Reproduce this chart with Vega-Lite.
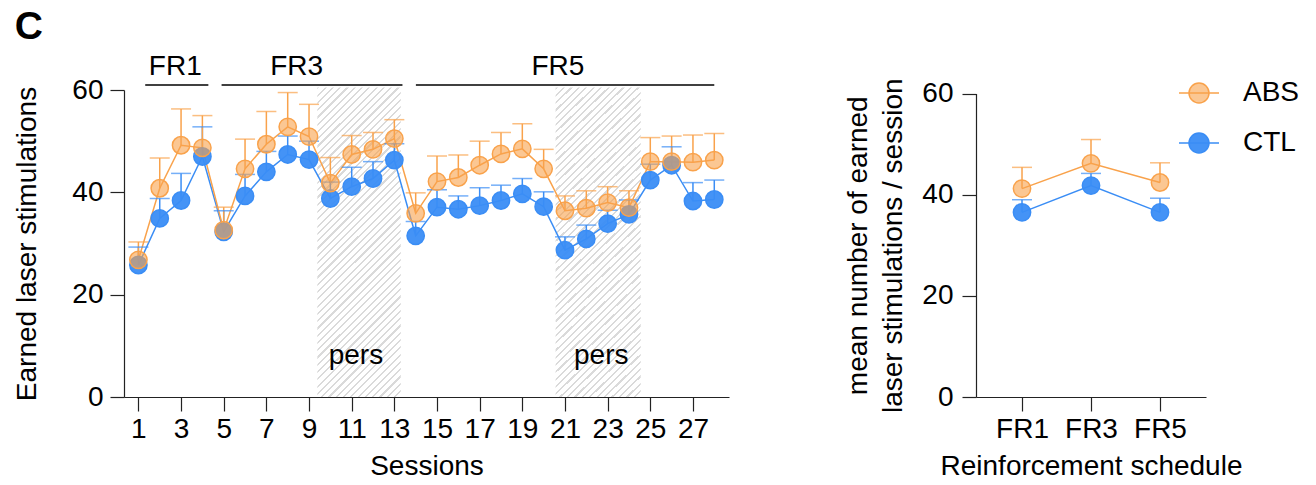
{
  "$schema": "https://vega.github.io/schema/vega-lite/v6.json",
  "background": "white",
  "padding": {"left": 13, "top": 7, "right": 5, "bottom": 5},
  "title": {"text": "C", "anchor": "start", "fontSize": 39, "fontWeight": "bold", "color": "#000", "font": "Liberation Sans", "offset": 6, "dx": 1},
  "config": {
    "font": "Liberation Sans",
    "view": {"stroke": null},
    "axis": {"labelFont": "Liberation Sans", "titleFont": "Liberation Sans", "labelFontSize": 28, "titleFontSize": 28, "titleFontWeight": "normal", "labelColor": "#000", "titleColor": "#000", "domainColor": "#222", "tickColor": "#222", "tickSize": 14, "grid": false, "domainWidth": 1.2, "tickWidth": 1.2}
  },
  "datasets": {
    "sessions": [
      {"session": 1, "group": "CTL", "mean": 25.8, "upper": 29.3},
      {"session": 2, "group": "CTL", "mean": 34.9, "upper": 38.8},
      {"session": 3, "group": "CTL", "mean": 38.4, "upper": 43.7},
      {"session": 4, "group": "CTL", "mean": 47.0, "upper": 52.8},
      {"session": 5, "group": "CTL", "mean": 32.3, "upper": 36.4},
      {"session": 6, "group": "CTL", "mean": 39.3, "upper": 43.5},
      {"session": 7, "group": "CTL", "mean": 44.0, "upper": 48.0},
      {"session": 8, "group": "CTL", "mean": 47.4, "upper": 51.0},
      {"session": 9, "group": "CTL", "mean": 46.4, "upper": 50.0},
      {"session": 10, "group": "CTL", "mean": 38.8, "upper": 42.0},
      {"session": 11, "group": "CTL", "mean": 41.1, "upper": 44.9},
      {"session": 12, "group": "CTL", "mean": 42.7, "upper": 46.0},
      {"session": 13, "group": "CTL", "mean": 46.3, "upper": 49.5},
      {"session": 14, "group": "CTL", "mean": 31.5, "upper": 34.3},
      {"session": 15, "group": "CTL", "mean": 37.1, "upper": 40.5},
      {"session": 16, "group": "CTL", "mean": 36.7, "upper": 39.3},
      {"session": 17, "group": "CTL", "mean": 37.4, "upper": 40.9},
      {"session": 18, "group": "CTL", "mean": 38.4, "upper": 41.4},
      {"session": 19, "group": "CTL", "mean": 39.7, "upper": 42.7},
      {"session": 20, "group": "CTL", "mean": 37.2, "upper": 40.1},
      {"session": 21, "group": "CTL", "mean": 28.7, "upper": 31.3},
      {"session": 22, "group": "CTL", "mean": 30.9, "upper": 33.6},
      {"session": 23, "group": "CTL", "mean": 33.9, "upper": 36.5},
      {"session": 24, "group": "CTL", "mean": 35.7, "upper": 38.5},
      {"session": 25, "group": "CTL", "mean": 42.4, "upper": 45.5},
      {"session": 26, "group": "CTL", "mean": 45.3, "upper": 48.9},
      {"session": 27, "group": "CTL", "mean": 38.3, "upper": 41.9},
      {"session": 28, "group": "CTL", "mean": 38.6, "upper": 42.4},
      {"session": 1, "group": "ABS", "mean": 26.8, "upper": 30.3},
      {"session": 2, "group": "ABS", "mean": 40.8, "upper": 46.7},
      {"session": 3, "group": "ABS", "mean": 49.2, "upper": 56.3},
      {"session": 4, "group": "ABS", "mean": 48.7, "upper": 55.0},
      {"session": 5, "group": "ABS", "mean": 32.6, "upper": 37.1},
      {"session": 6, "group": "ABS", "mean": 44.6, "upper": 50.4},
      {"session": 7, "group": "ABS", "mean": 49.4, "upper": 55.8},
      {"session": 8, "group": "ABS", "mean": 52.8, "upper": 59.5},
      {"session": 9, "group": "ABS", "mean": 50.9, "upper": 57.2},
      {"session": 10, "group": "ABS", "mean": 41.8, "upper": 46.8},
      {"session": 11, "group": "ABS", "mean": 47.4, "upper": 51.1},
      {"session": 12, "group": "ABS", "mean": 48.4, "upper": 51.7},
      {"session": 13, "group": "ABS", "mean": 50.5, "upper": 54.2},
      {"session": 14, "group": "ABS", "mean": 35.9, "upper": 39.9},
      {"session": 15, "group": "ABS", "mean": 42.1, "upper": 47.1},
      {"session": 16, "group": "ABS", "mean": 42.9, "upper": 47.3},
      {"session": 17, "group": "ABS", "mean": 45.3, "upper": 50.0},
      {"session": 18, "group": "ABS", "mean": 47.5, "upper": 51.7},
      {"session": 19, "group": "ABS", "mean": 48.5, "upper": 53.4},
      {"session": 20, "group": "ABS", "mean": 44.6, "upper": 48.4},
      {"session": 21, "group": "ABS", "mean": 36.4, "upper": 39.3},
      {"session": 22, "group": "ABS", "mean": 36.9, "upper": 40.3},
      {"session": 23, "group": "ABS", "mean": 38.0, "upper": 41.1},
      {"session": 24, "group": "ABS", "mean": 37.0, "upper": 40.3},
      {"session": 25, "group": "ABS", "mean": 46.0, "upper": 50.7},
      {"session": 26, "group": "ABS", "mean": 46.0, "upper": 51.0},
      {"session": 27, "group": "ABS", "mean": 45.9, "upper": 51.2},
      {"session": 28, "group": "ABS", "mean": 46.3, "upper": 51.5}
    ],
    "summary": [
      {"schedule": "FR1", "group": "CTL", "mean": 36.5, "upper": 39.0},
      {"schedule": "FR3", "group": "CTL", "mean": 41.8, "upper": 44.2},
      {"schedule": "FR5", "group": "CTL", "mean": 36.5, "upper": 39.3},
      {"schedule": "FR1", "group": "ABS", "mean": 41.2, "upper": 45.4},
      {"schedule": "FR3", "group": "ABS", "mean": 46.2, "upper": 50.9},
      {"schedule": "FR5", "group": "ABS", "mean": 42.4, "upper": 46.3}
    ],
    "phases": [
      {"label": "FR1", "start": 1.32, "end": 4.28, "mid": 2.73},
      {"label": "FR3", "start": 4.9, "end": 13.38, "mid": 8.42},
      {"label": "FR5", "start": 14.01, "end": 28.0, "mid": 20.67}
    ],
    "pers": [
      {"label": "pers", "start": 9.39, "end": 13.3, "mid": 11.2},
      {"label": "pers", "start": 20.56, "end": 24.55, "mid": 22.7}
    ]
  },
  "spacing": 115,
  "resolve": {"scale": {"color": "independent", "fillOpacity": "independent"}, "legend": {"color": "independent", "fillOpacity": "independent"}},
  "hconcat": [
    {
      "width": 605,
      "height": 307,
      "layer": [
        {
          "data": {"name": "pers"},
          "mark": {"type": "rect", "clip": false, "fill": {"gradient": "linear", "x1": 0, "y1": 0, "x2": 0.3184, "y2": 1.1834, "stops": [
            {"offset": 0, "color": "#dadada"}, {"offset": 0.0056, "color": "#dadada"}, {"offset": 0.0056, "color": "#fff"}, {"offset": 0.0185, "color": "#fff"},
            {"offset": 0.0185, "color": "#dadada"}, {"offset": 0.0241, "color": "#dadada"}, {"offset": 0.0241, "color": "#fff"}, {"offset": 0.0370, "color": "#fff"},
            {"offset": 0.0370, "color": "#dadada"}, {"offset": 0.0426, "color": "#dadada"}, {"offset": 0.0426, "color": "#fff"}, {"offset": 0.0556, "color": "#fff"},
            {"offset": 0.0556, "color": "#dadada"}, {"offset": 0.0611, "color": "#dadada"}, {"offset": 0.0611, "color": "#fff"}, {"offset": 0.0741, "color": "#fff"},
            {"offset": 0.0741, "color": "#dadada"}, {"offset": 0.0796, "color": "#dadada"}, {"offset": 0.0796, "color": "#fff"}, {"offset": 0.0926, "color": "#fff"},
            {"offset": 0.0926, "color": "#dadada"}, {"offset": 0.0981, "color": "#dadada"}, {"offset": 0.0981, "color": "#fff"}, {"offset": 0.1111, "color": "#fff"},
            {"offset": 0.1111, "color": "#dadada"}, {"offset": 0.1167, "color": "#dadada"}, {"offset": 0.1167, "color": "#fff"}, {"offset": 0.1296, "color": "#fff"},
            {"offset": 0.1296, "color": "#dadada"}, {"offset": 0.1352, "color": "#dadada"}, {"offset": 0.1352, "color": "#fff"}, {"offset": 0.1481, "color": "#fff"},
            {"offset": 0.1481, "color": "#dadada"}, {"offset": 0.1537, "color": "#dadada"}, {"offset": 0.1537, "color": "#fff"}, {"offset": 0.1667, "color": "#fff"},
            {"offset": 0.1667, "color": "#dadada"}, {"offset": 0.1722, "color": "#dadada"}, {"offset": 0.1722, "color": "#fff"}, {"offset": 0.1852, "color": "#fff"},
            {"offset": 0.1852, "color": "#dadada"}, {"offset": 0.1907, "color": "#dadada"}, {"offset": 0.1907, "color": "#fff"}, {"offset": 0.2037, "color": "#fff"},
            {"offset": 0.2037, "color": "#dadada"}, {"offset": 0.2093, "color": "#dadada"}, {"offset": 0.2093, "color": "#fff"}, {"offset": 0.2222, "color": "#fff"},
            {"offset": 0.2222, "color": "#dadada"}, {"offset": 0.2278, "color": "#dadada"}, {"offset": 0.2278, "color": "#fff"}, {"offset": 0.2407, "color": "#fff"},
            {"offset": 0.2407, "color": "#dadada"}, {"offset": 0.2463, "color": "#dadada"}, {"offset": 0.2463, "color": "#fff"}, {"offset": 0.2593, "color": "#fff"},
            {"offset": 0.2593, "color": "#dadada"}, {"offset": 0.2648, "color": "#dadada"}, {"offset": 0.2648, "color": "#fff"}, {"offset": 0.2778, "color": "#fff"},
            {"offset": 0.2778, "color": "#dadada"}, {"offset": 0.2833, "color": "#dadada"}, {"offset": 0.2833, "color": "#fff"}, {"offset": 0.2963, "color": "#fff"},
            {"offset": 0.2963, "color": "#dadada"}, {"offset": 0.3019, "color": "#dadada"}, {"offset": 0.3019, "color": "#fff"}, {"offset": 0.3148, "color": "#fff"},
            {"offset": 0.3148, "color": "#dadada"}, {"offset": 0.3204, "color": "#dadada"}, {"offset": 0.3204, "color": "#fff"}, {"offset": 0.3333, "color": "#fff"},
            {"offset": 0.3333, "color": "#dadada"}, {"offset": 0.3389, "color": "#dadada"}, {"offset": 0.3389, "color": "#fff"}, {"offset": 0.3519, "color": "#fff"},
            {"offset": 0.3519, "color": "#dadada"}, {"offset": 0.3574, "color": "#dadada"}, {"offset": 0.3574, "color": "#fff"}, {"offset": 0.3704, "color": "#fff"},
            {"offset": 0.3704, "color": "#dadada"}, {"offset": 0.3759, "color": "#dadada"}, {"offset": 0.3759, "color": "#fff"}, {"offset": 0.3889, "color": "#fff"},
            {"offset": 0.3889, "color": "#dadada"}, {"offset": 0.3944, "color": "#dadada"}, {"offset": 0.3944, "color": "#fff"}, {"offset": 0.4074, "color": "#fff"},
            {"offset": 0.4074, "color": "#dadada"}, {"offset": 0.4130, "color": "#dadada"}, {"offset": 0.4130, "color": "#fff"}, {"offset": 0.4259, "color": "#fff"},
            {"offset": 0.4259, "color": "#dadada"}, {"offset": 0.4315, "color": "#dadada"}, {"offset": 0.4315, "color": "#fff"}, {"offset": 0.4444, "color": "#fff"},
            {"offset": 0.4444, "color": "#dadada"}, {"offset": 0.4500, "color": "#dadada"}, {"offset": 0.4500, "color": "#fff"}, {"offset": 0.4630, "color": "#fff"},
            {"offset": 0.4630, "color": "#dadada"}, {"offset": 0.4685, "color": "#dadada"}, {"offset": 0.4685, "color": "#fff"}, {"offset": 0.4815, "color": "#fff"},
            {"offset": 0.4815, "color": "#dadada"}, {"offset": 0.4870, "color": "#dadada"}, {"offset": 0.4870, "color": "#fff"}, {"offset": 0.5000, "color": "#fff"},
            {"offset": 0.5000, "color": "#dadada"}, {"offset": 0.5056, "color": "#dadada"}, {"offset": 0.5056, "color": "#fff"}, {"offset": 0.5185, "color": "#fff"},
            {"offset": 0.5185, "color": "#dadada"}, {"offset": 0.5241, "color": "#dadada"}, {"offset": 0.5241, "color": "#fff"}, {"offset": 0.5370, "color": "#fff"},
            {"offset": 0.5370, "color": "#dadada"}, {"offset": 0.5426, "color": "#dadada"}, {"offset": 0.5426, "color": "#fff"}, {"offset": 0.5556, "color": "#fff"},
            {"offset": 0.5556, "color": "#dadada"}, {"offset": 0.5611, "color": "#dadada"}, {"offset": 0.5611, "color": "#fff"}, {"offset": 0.5741, "color": "#fff"},
            {"offset": 0.5741, "color": "#dadada"}, {"offset": 0.5796, "color": "#dadada"}, {"offset": 0.5796, "color": "#fff"}, {"offset": 0.5926, "color": "#fff"},
            {"offset": 0.5926, "color": "#dadada"}, {"offset": 0.5981, "color": "#dadada"}, {"offset": 0.5981, "color": "#fff"}, {"offset": 0.6111, "color": "#fff"},
            {"offset": 0.6111, "color": "#dadada"}, {"offset": 0.6167, "color": "#dadada"}, {"offset": 0.6167, "color": "#fff"}, {"offset": 0.6296, "color": "#fff"},
            {"offset": 0.6296, "color": "#dadada"}, {"offset": 0.6352, "color": "#dadada"}, {"offset": 0.6352, "color": "#fff"}, {"offset": 0.6481, "color": "#fff"},
            {"offset": 0.6481, "color": "#dadada"}, {"offset": 0.6537, "color": "#dadada"}, {"offset": 0.6537, "color": "#fff"}, {"offset": 0.6667, "color": "#fff"},
            {"offset": 0.6667, "color": "#dadada"}, {"offset": 0.6722, "color": "#dadada"}, {"offset": 0.6722, "color": "#fff"}, {"offset": 0.6852, "color": "#fff"},
            {"offset": 0.6852, "color": "#dadada"}, {"offset": 0.6907, "color": "#dadada"}, {"offset": 0.6907, "color": "#fff"}, {"offset": 0.7037, "color": "#fff"},
            {"offset": 0.7037, "color": "#dadada"}, {"offset": 0.7093, "color": "#dadada"}, {"offset": 0.7093, "color": "#fff"}, {"offset": 0.7222, "color": "#fff"},
            {"offset": 0.7222, "color": "#dadada"}, {"offset": 0.7278, "color": "#dadada"}, {"offset": 0.7278, "color": "#fff"}, {"offset": 0.7407, "color": "#fff"},
            {"offset": 0.7407, "color": "#dadada"}, {"offset": 0.7463, "color": "#dadada"}, {"offset": 0.7463, "color": "#fff"}, {"offset": 0.7593, "color": "#fff"},
            {"offset": 0.7593, "color": "#dadada"}, {"offset": 0.7648, "color": "#dadada"}, {"offset": 0.7648, "color": "#fff"}, {"offset": 0.7778, "color": "#fff"},
            {"offset": 0.7778, "color": "#dadada"}, {"offset": 0.7833, "color": "#dadada"}, {"offset": 0.7833, "color": "#fff"}, {"offset": 0.7963, "color": "#fff"},
            {"offset": 0.7963, "color": "#dadada"}, {"offset": 0.8019, "color": "#dadada"}, {"offset": 0.8019, "color": "#fff"}, {"offset": 0.8148, "color": "#fff"},
            {"offset": 0.8148, "color": "#dadada"}, {"offset": 0.8204, "color": "#dadada"}, {"offset": 0.8204, "color": "#fff"}, {"offset": 0.8333, "color": "#fff"},
            {"offset": 0.8333, "color": "#dadada"}, {"offset": 0.8389, "color": "#dadada"}, {"offset": 0.8389, "color": "#fff"}, {"offset": 0.8519, "color": "#fff"},
            {"offset": 0.8519, "color": "#dadada"}, {"offset": 0.8574, "color": "#dadada"}, {"offset": 0.8574, "color": "#fff"}, {"offset": 0.8704, "color": "#fff"},
            {"offset": 0.8704, "color": "#dadada"}, {"offset": 0.8759, "color": "#dadada"}, {"offset": 0.8759, "color": "#fff"}, {"offset": 0.8889, "color": "#fff"},
            {"offset": 0.8889, "color": "#dadada"}, {"offset": 0.8944, "color": "#dadada"}, {"offset": 0.8944, "color": "#fff"}, {"offset": 0.9074, "color": "#fff"},
            {"offset": 0.9074, "color": "#dadada"}, {"offset": 0.9130, "color": "#dadada"}, {"offset": 0.9130, "color": "#fff"}, {"offset": 0.9259, "color": "#fff"},
            {"offset": 0.9259, "color": "#dadada"}, {"offset": 0.9315, "color": "#dadada"}, {"offset": 0.9315, "color": "#fff"}, {"offset": 0.9444, "color": "#fff"},
            {"offset": 0.9444, "color": "#dadada"}, {"offset": 0.9500, "color": "#dadada"}, {"offset": 0.9500, "color": "#fff"}, {"offset": 0.9630, "color": "#fff"},
            {"offset": 0.9630, "color": "#dadada"}, {"offset": 0.9685, "color": "#dadada"}, {"offset": 0.9685, "color": "#fff"}, {"offset": 0.9815, "color": "#fff"},
            {"offset": 0.9815, "color": "#dadada"}, {"offset": 0.9870, "color": "#dadada"}, {"offset": 0.9870, "color": "#fff"}, {"offset": 1, "color": "#fff"}
          ]}},
          "encoding": {
            "x": {"field": "start", "type": "quantitative", "scale": {"domain": [0.325, 28.69], "nice": false, "zero": false}, "axis": {"values": [1, 3, 5, 7, 9, 11, 13, 15, 17, 19, 21, 23, 25, 27], "title": "Sessions", "labelPadding": 4, "titlePadding": 9, "labelFlush": false}},
            "x2": {"field": "end"},
            "y": {"datum": 0, "type": "quantitative", "scale": {"domain": [0, 60], "nice": false}, "axis": {"values": [0, 20, 40, 60], "title": "Earned laser stimulations", "labelPadding": 7, "titlePadding": 30}},
            "y2": {"datum": 60.5}
          }
        },
        {
          "data": {"name": "pers"},
          "mark": {"type": "text", "fontSize": 28, "baseline": "alphabetic", "align": "center", "color": "#000"},
          "encoding": {"x": {"field": "mid", "type": "quantitative"}, "y": {"datum": 6.5, "type": "quantitative"}, "text": {"field": "label"}}
        },
        {
          "data": {"name": "phases"},
          "mark": {"type": "rule", "clip": false, "color": "#000", "strokeWidth": 1.5},
          "encoding": {"x": {"field": "start", "type": "quantitative"}, "x2": {"field": "end"}, "y": {"datum": 61.0, "type": "quantitative"}}
        },
        {
          "data": {"name": "phases"},
          "mark": {"type": "text", "clip": false, "fontSize": 28, "baseline": "alphabetic", "align": "center", "color": "#000"},
          "encoding": {"x": {"field": "mid", "type": "quantitative"}, "y": {"datum": 63.0, "type": "quantitative"}, "text": {"field": "label"}}
        },
        {
          "data": {"name": "sessions"},
          "mark": {"type": "line", "strokeWidth": 1.5},
          "encoding": {
            "x": {"field": "session", "type": "quantitative"},
            "y": {"field": "mean", "type": "quantitative"},
            "color": {"field": "group", "type": "nominal", "scale": {"domain": ["ABS", "CTL"], "range": ["#F9A24B", "#3A8DF5"]}, "legend": null},
            "detail": {"field": "group"}
          }
        },
        {
          "data": {"name": "sessions"},
          "mark": {"type": "rule", "strokeWidth": 1.5, "clip": false},
          "encoding": {
            "x": {"field": "session", "type": "quantitative"},
            "y": {"field": "mean", "type": "quantitative"},
            "y2": {"field": "upper"},
            "color": {"field": "group", "type": "nominal", "legend": null}
          }
        },
        {
          "data": {"name": "sessions"},
          "mark": {"type": "tick", "orient": "horizontal", "size": 20, "thickness": 1.5, "clip": false},
          "encoding": {
            "x": {"field": "session", "type": "quantitative"},
            "y": {"field": "upper", "type": "quantitative"},
            "color": {"field": "group", "type": "nominal", "legend": null}
          }
        },
        {
          "data": {"name": "sessions"},
          "mark": {"type": "point", "filled": true, "size": 300, "strokeWidth": 1.5, "opacity": 1},
          "encoding": {
            "x": {"field": "session", "type": "quantitative"},
            "y": {"field": "mean", "type": "quantitative"},
            "color": {"field": "group", "type": "nominal", "legend": null},
            "fillOpacity": {"field": "group", "type": "nominal", "scale": {"domain": ["ABS", "CTL"], "range": [0.6, 0.95]}, "legend": null},
            "stroke": {"field": "group", "type": "nominal", "legend": null}
          }
        }
      ]
    },
    {
      "width": 230,
      "height": 307,
      "data": {"name": "summary"},
      "encoding": {
        "x": {"field": "schedule", "type": "nominal", "sort": ["FR1", "FR3", "FR5"], "scale": {"type": "point", "padding": 0.667}, "axis": {"labelAngle": 0, "title": "Reinforcement schedule", "labelPadding": 4, "titlePadding": 9}},
        "y": {"field": "mean", "type": "quantitative", "scale": {"domain": [0, 60], "nice": false, "range": [307, 3.5]}, "axis": {"values": [0, 20, 40, 60], "title": ["mean number of earned", "laser stimulations / session"], "titleLineHeight": 35, "labelPadding": 9, "titlePadding": 14}}
      },
      "layer": [
        {
          "mark": {"type": "line", "strokeWidth": 1.5},
          "encoding": {
            "color": {"field": "group", "type": "nominal", "scale": {"domain": ["ABS", "CTL"], "range": ["#F9A24B", "#3A8DF5"]}, "legend": {"title": null, "orient": "none", "legendX": 202, "legendY": -18, "symbolType": "M-1,0L1,0M-0.5,0A0.5,0.5,0,1,1,0.5,0A0.5,0.5,0,1,1,-0.5,0Z", "symbolSize": 1600, "symbolStrokeWidth": 1.5, "labelFontSize": 28, "labelFont": "Liberation Sans", "labelColor": "#000", "labelOffset": 23, "rowPadding": 15, "encode": {"symbols": {"update": {"fill": {"signal": "datum.value === 'ABS' ? '#F9A24B' : '#3A8DF5'"}, "stroke": {"signal": "datum.value === 'ABS' ? '#F9A24B' : '#3A8DF5'"}, "fillOpacity": {"signal": "datum.value === 'ABS' ? 0.6 : 0.95"}, "strokeWidth": {"value": 1.5}, "opacity": {"value": 1}}}}}},
            "detail": {"field": "group"}
          }
        },
        {
          "mark": {"type": "rule", "strokeWidth": 1.5},
          "encoding": {"y2": {"field": "upper"}, "color": {"field": "group", "type": "nominal"}}
        },
        {
          "mark": {"type": "tick", "orient": "horizontal", "size": 20, "thickness": 1.5},
          "encoding": {"y": {"field": "upper", "type": "quantitative"}, "color": {"field": "group", "type": "nominal"}}
        },
        {
          "mark": {"type": "point", "filled": true, "size": 300, "strokeWidth": 1.5, "opacity": 1},
          "encoding": {
            "color": {"field": "group", "type": "nominal"},
            "stroke": {"field": "group", "type": "nominal", "scale": {"domain": ["ABS", "CTL"], "range": ["#F9A24B", "#3A8DF5"]}, "legend": null},
            "fillOpacity": {"field": "group", "type": "nominal", "scale": {"domain": ["ABS", "CTL"], "range": [0.6, 0.95]}, "legend": null}
          }
        }
      ]
    }
  ]
}
